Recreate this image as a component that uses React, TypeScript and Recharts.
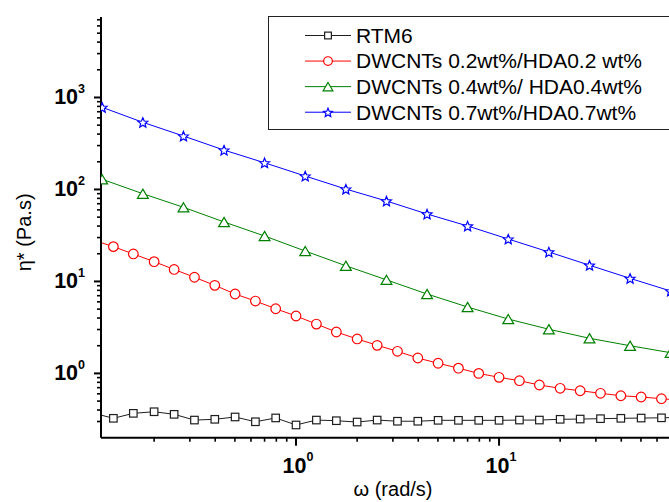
import React from 'react';
import { LineChart, Line, XAxis, YAxis, Legend } from 'recharts';

// angular frequency (rad/s) for RTM6 and 0.2 wt% series
const omegaA = [0.1, 0.126, 0.158, 0.2, 0.251, 0.316, 0.398, 0.501, 0.631, 0.794, 1, 1.26, 1.58, 2, 2.51, 3.16, 3.98, 5.01, 6.31, 7.94, 10, 12.6, 15.8, 20, 25.1, 31.6, 39.8, 50.1, 63.1, 79.4];
const rtm6 = [0.371, 0.325, 0.368, 0.383, 0.359, 0.311, 0.317, 0.336, 0.298, 0.328, 0.275, 0.311, 0.306, 0.296, 0.311, 0.302, 0.302, 0.309, 0.309, 0.309, 0.309, 0.311, 0.311, 0.317, 0.319, 0.322, 0.325, 0.327, 0.329, 0.333];
const dw02 = [28.2, 23.9, 19.9, 16.4, 13.5, 11.1, 9.07, 7.3, 6.12, 5.05, 4.21, 3.44, 2.82, 2.37, 2.02, 1.74, 1.47, 1.29, 1.14, 1.0, 0.907, 0.833, 0.748, 0.689, 0.648, 0.608, 0.572, 0.554, 0.531, 0.51];
// angular frequency for 0.4 and 0.7 wt% series
const omegaB = [0.111, 0.176, 0.279, 0.442, 0.7, 1.11, 1.76, 2.79, 4.42, 7.0, 11.1, 17.6, 27.9, 44.2, 70.0, 111];
const dw04 = [129, 89.9, 64.0, 44.3, 31.2, 21.4, 14.8, 10.4, 7.3, 5.27, 3.9, 3.02, 2.41, 2.0, 1.68, 1.42];
const dw07 = [782, 537, 381, 268, 195, 140, 101, 74.9, 54.1, 40.1, 28.9, 20.9, 15.0, 10.8, 7.87, 5.75];

const seriesNames = ['RTM6', 'DWCNTs 0.2wt%/HDA0.2 wt%', 'DWCNTs 0.4wt%/ HDA0.4wt%', 'DWCNTs 0.7wt%/HDA0.7wt%'];
const colors = ['#1e1e1e', '#ff0000', '#008000', '#0000ff'];
const shapes = ['square', 'circle', 'triangle', 'star'];

const xTicks = [0.2, 0.3, 0.4, 0.5, 0.6, 0.7, 0.8, 0.9, 1, 2, 3, 4, 5, 6, 7, 8, 9, 10, 20, 30, 40, 50, 60, 70, 80];
const yTicks = [0.3, 0.4, 0.5, 0.6, 0.7, 0.8, 0.9, 1, 2, 3, 4, 5, 6, 7, 8, 9, 10, 20, 30, 40, 50, 60, 70, 80, 90, 100, 200, 300, 400, 500, 600, 700, 800, 900, 1000, 2000, 3000, 4000, 5000, 6000, 7000];

const xDomain = [0.1095, 82.4];
const yDomain = [0.2, 7500];

const FONT = '"Liberation Sans", Arial, Helvetica, sans-serif';

const rows = (xs: number[], ys: number[]) => xs.map((w, i) => ({ w, v: ys[i] }));

const isMajor = (v: number) => Math.abs(Math.log10(v) - Math.round(Math.log10(v))) < 1e-9;

function Marker({ shape, cx, cy, color, scale = 1 }: any) {
  if (cx == null || cy == null || isNaN(cx) || isNaN(cy)) return null;
  if (shape === 'square') {
    const s = 7.5 * scale;
    return <rect x={cx - s / 2} y={cy - s / 2} width={s} height={s} fill="#fff" stroke={color} strokeWidth={1.2} />;
  }
  if (shape === 'circle') {
    return <circle cx={cx} cy={cy} r={4.8 * scale} fill="#fff" stroke={color} strokeWidth={1.2} />;
  }
  if (shape === 'triangle') {
    const hw = 5.4 * scale;
    const hh = 4.6 * scale;
    const pts = `${cx},${cy - hh} ${cx + hw},${cy + hh} ${cx - hw},${cy + hh}`;
    return <polygon points={pts} fill="#fff" stroke={color} strokeWidth={1.2} strokeLinejoin="miter" />;
  }
  // star
  const R = 5.2 * scale;
  const r = R * 0.45;
  const pts: string[] = [];
  for (let k = 0; k < 10; k++) {
    const ang = -Math.PI / 2 + (k * Math.PI) / 5;
    const rad = k % 2 === 0 ? R : r;
    pts.push(`${cx + rad * Math.cos(ang)},${cy + 0.6 + rad * Math.sin(ang)}`);
  }
  return <polygon points={pts.join(' ')} fill="#fff" stroke={color} strokeWidth={1.2} />;
}

const makeDot = (i: number) => (p: any) => (
  <Marker key={`d${i}-${p.index}`} shape={shapes[i]} cx={p.cx} cy={p.cy} color={colors[i]} />
);

const YTick = (p: any) => {
  const { x, y, payload } = p;
  const v = payload.value;
  const major = isMajor(v);
  return (
    <g>
      <line x1={x - (major ? 7 : 4)} x2={x} y1={y} y2={y} stroke="#000" strokeWidth={major ? 2 : 1.6} />
      {major && (
        <text x={x - 16} y={y + 7} textAnchor="end" fontFamily={FONT} fontWeight="bold" fontSize={21.5} fill="#000">
          10
          <tspan dy={-11} fontSize={12.5}>{Math.round(Math.log10(v))}</tspan>
        </text>
      )}
    </g>
  );
};

const XTick = (p: any) => {
  const { x, y, payload } = p;
  const v = payload.value;
  const major = isMajor(v);
  return (
    <g>
      <line x1={x} x2={x} y1={y} y2={y + (major ? 8 : 4)} stroke="#000" strokeWidth={major ? 2 : 1.6} />
      {major && (
        <text x={x + 2} y={y + 35} textAnchor="middle" fontFamily={FONT} fontWeight="bold" fontSize={21.5} fill="#000">
          10
          <tspan dy={-12} fontSize={12.5}>{Math.round(Math.log10(v))}</tspan>
        </text>
      )}
    </g>
  );
};

const TopTick = (p: any) => {
  const { x, y, payload } = p;
  const major = isMajor(payload.value);
  return <line x1={x} x2={x} y1={y} y2={y - (major ? 7 : 4)} stroke="#000" strokeWidth={major ? 2 : 1.6} />;
};

const LegendBox = () => (
  <svg width={460} height={114} style={{ display: 'block' }}>
    <rect x={0.5} y={0.5} width={459} height={113} fill="#fff" stroke="#222" strokeWidth={1} />
    {seriesNames.map((name, i) => {
      const cy = 19.5 + i * 25.57;
      return (
        <g key={name}>
          <line x1={37} x2={83} y1={cy} y2={cy} stroke={colors[i]} strokeWidth={1} />
          <Marker shape={shapes[i]} cx={60} cy={cy} color={colors[i]} scale={0.9} />
          <text x={88} y={cy + 7.4} fontFamily={FONT} fontSize={21} fill="#000">
            {name}
          </text>
        </g>
      );
    })}
  </svg>
);

export default function App() {
  const seriesData = [rows(omegaA, rtm6), rows(omegaA, dw02), rows(omegaB, dw04), rows(omegaB, dw07)];
  return (
    <div style={{ position: 'fixed', left: 0, top: 0, width: 669, height: 502, overflow: 'hidden', background: '#fff' }}>
      <LineChart width={720} height={502} margin={{ top: 17, right: 35, bottom: 4.3, left: 0 }}>
        <XAxis
          xAxisId="top"
          orientation="top"
          dataKey="w"
          type="number"
          scale="log"
          domain={xDomain}
          allowDataOverflow
          ticks={xTicks}
          interval={0}
          height={0}
          tickSize={0}
          tickMargin={0}
          tickLine={false}
          axisLine={{ stroke: '#000', strokeWidth: 2 }}
          tick={TopTick}
        />
        <XAxis
          dataKey="w"
          type="number"
          scale="log"
          domain={xDomain}
          allowDataOverflow
          ticks={xTicks}
          interval={0}
          height={60}
          tickSize={0}
          tickMargin={0}
          tickLine={false}
          axisLine={{ stroke: '#000', strokeWidth: 2 }}
          tick={XTick}
          label={{
            content: (lp: any) => {
              const vb = lp.viewBox || { x: 101, y: 437.7, width: 584 };
              return (
                <text x={vb.x + vb.width / 2} y={vb.y + 58} textAnchor="middle" fontFamily={FONT} fontSize={20} fill="#000">
                  ω (rad/s)
                </text>
              );
            },
          }}
        />
        <YAxis
          dataKey="v"
          type="number"
          scale="log"
          domain={yDomain}
          allowDataOverflow
          ticks={yTicks}
          interval={0}
          width={101}
          tickSize={0}
          tickMargin={0}
          tickLine={false}
          axisLine={{ stroke: '#000', strokeWidth: 2 }}
          tick={YTick}
          label={{
            content: (lp: any) => {
              const vb = lp.viewBox || { x: 0, y: 17, height: 420.7 };
              const cx = 31.5;
              const cy = vb.y + vb.height / 2 + 5;
              return (
                <text x={cx} y={cy} transform={`rotate(-90 ${cx} ${cy})`} textAnchor="middle" fontFamily={FONT} fontSize={20} fill="#000">
                  η* (Pa.s)
                </text>
              );
            },
          }}
        />
        {seriesData.map((d, i) => (
          <Line
            key={seriesNames[i]}
            data={d}
            dataKey="v"
            name={seriesNames[i]}
            type="linear"
            stroke={colors[i]}
            strokeWidth={1}
            dot={makeDot(i)}
            activeDot={false}
            isAnimationActive={false}
          />
        ))}
        <Legend
          layout="horizontal"
          verticalAlign="middle"
          align="center"
          content={() => <LegendBox />}
          wrapperStyle={{ left: 268, top: 16, width: 460, height: 114 }}
        />
      </LineChart>
    </div>
  );
}
